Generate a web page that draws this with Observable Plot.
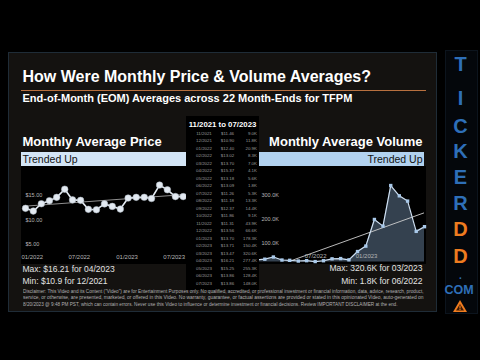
<!DOCTYPE html>
<html><head><meta charset="utf-8">
<script src="https://cdn.jsdelivr.net/npm/d3@7"></script>
<script src="https://cdn.jsdelivr.net/npm/@observablehq/plot@0.6"></script>
<style>
html,body{margin:0;padding:0;background:#000;width:480px;height:360px;overflow:hidden;font-family:"Liberation Sans",Arial,sans-serif;}
#root{position:relative;width:480px;height:360px;background:#000;}
.t{position:absolute;white-space:nowrap;}
</style></head><body>
<div id="root"></div>
<script>
// ---- data ----
const months = ["11/2021","12/2021","01/2022","02/2022","03/2022","04/2022","05/2022","06/2022","07/2022","08/2022","09/2022","10/2022","11/2022","12/2022","01/2023","02/2023","03/2023","04/2023","05/2023","06/2023","07/2023"];
const prices = [11.46,10.90,12.40,13.02,13.70,15.37,13.18,13.09,11.26,11.18,12.37,11.86,11.31,13.56,13.70,13.71,13.47,16.21,15.25,13.86,13.86];
const volumes = [9.0,11.8,20.9,8.3,7.0,4.1,5.6,1.8,5.3,13.3,14.4,9.1,43.9,66.6,178.3,150.4,320.6,277.4,255.3,128.4,148.0]; // thousands
const priceTicks = [5,10,15];
const priceDateTicks = ["01/2022","07/2022","01/2023","07/2023"];
const volumeTicks = [100,200,300];
const volumeDateTicks = ["07/2022","01/2023"];
const sideLetters = ["T","I","C","K","E","R","D","D"];

const FONT = '"Liberation Sans", Arial, sans-serif';
function parseMonth(s){const [m,y]=s.split("/");return new Date(Date.UTC(+y,+m-1,1));}
const root = document.getElementById("root");
function box(x,y,w,h,style){const d=document.createElement("div");d.className="t";Object.assign(d.style,{left:x+"px",top:y+"px",width:w+"px",height:h+"px"},style||{});root.appendChild(d);return d;}
function label(txt,x,yc,size,opts){
  opts=opts||{};
  const d=document.createElement("div");d.className="t";d.textContent=txt;
  d.style.fontSize=size+"px";d.style.lineHeight=size+"px";d.style.top=(yc-size/2)+"px";
  d.style.fontWeight=opts.bold?"bold":"normal";d.style.color=opts.color||"#fff";
  if(opts.anchor==="end"){d.style.right=(480-x)+"px";}
  else if(opts.anchor==="middle"){d.style.left=(x-100)+"px";d.style.width="200px";d.style.textAlign="center";}
  else d.style.left=x+"px";
  root.appendChild(d);return d;
}

// panel
box(8,52,429,260,{background:"#141210",border:"1px solid #1f2c37",boxSizing:"border-box"});
// sidebar
box(445,50,33,264,{background:"#04070b",border:"1px solid #0c141d",boxSizing:"border-box"});

label("How Were Monthly Price & Volume Averages?",22.5,77,16,{bold:true});
box(21,89.5,405,1.6,{background:"#b8703f"});
label("End-of-Month (EOM) Averages across 22 Month-Ends for TFPM",22.5,98.5,11,{bold:true});

label("Monthly Average Price",22.5,141,13,{bold:true});
box(21,152,166,14,{background:"#d3e5f6"});
label("Trended Up",22.5,159,10.5,{color:"#111"});

label("Monthly Average Volume",422.5,141,13,{bold:true,anchor:"end"});
box(258,152,166,14,{background:"#b2d2ef"});
label("Trended Up",422.5,159,10.5,{color:"#111",anchor:"end"});

// ---- price chart ----
const priceData = months.map((m,i)=>({date:parseMonth(m),price:prices[i]}));
const pricePlot = Plot.plot({
  width:166,height:98,marginLeft:4,marginRight:4.3,marginTop:9.8,marginBottom:0,
  style:{background:"#000",fontFamily:FONT,overflow:"visible"},
  x:{type:"utc",domain:d3.extent(priceData,d=>d.date),axis:null},
  y:{domain:[0,18],axis:null},
  marks:[
    Plot.text(priceTicks,{y:d=>d,frameAnchor:"left",text:d=>"$"+d.toFixed(2),textAnchor:"start",dx:0,dy:4.4,fontSize:5.5,fill:"#b5b5b5"}),
    Plot.text(priceDateTicks,{x:d=>parseMonth(d),frameAnchor:"bottom",text:d=>d,textAnchor:"end",dx:1.8,dy:-6,fontSize:6,fill:"#b5b5b5"}),
    Plot.linearRegressionY(priceData,{x:"date",y:"price",stroke:"#8e8e8e",strokeWidth:1,ci:0}),
    Plot.line(priceData,{x:"date",y:"price",stroke:"#e4ebf3",strokeWidth:1.6}),
    Plot.dot(priceData,{x:"date",y:"price",r:3.3,fill:"#e2e9f1",stroke:"#aab4bf",strokeWidth:0.5})
  ]
});
const pw=box(21,166,166,98,{});pw.appendChild(pricePlot);

// ---- volume chart ----
const volData = months.map((m,i)=>({date:parseMonth(m),vol:volumes[i]}));
const volPlot = Plot.plot({
  width:176,height:98,marginLeft:6,marginRight:2,marginTop:14.4,marginBottom:2.5,
  style:{background:"#000",fontFamily:FONT,overflow:"visible"},
  x:{type:"utc",domain:d3.extent(volData,d=>d.date),axis:null},
  y:{domain:[0,340],axis:null},
  marks:[
    Plot.areaY(volData,{x:"date",y:"vol",fill:"#34414f"}),
    Plot.text(volumeTicks,{y:d=>d,frameAnchor:"left",text:d=>d.toFixed(1)+"K",textAnchor:"start",dx:5,dy:5,fontSize:5.5,fill:"#b5b5b5"}),
    Plot.linearRegressionY(volData,{x:"date",y:"vol",stroke:"#cfcfcf",strokeWidth:0.9,ci:0,clip:true}),
    Plot.line(volData,{x:"date",y:"vol",stroke:"#cfe0f2",strokeWidth:1.2}),
    Plot.dot(volData,{x:"date",y:"vol",symbol:"square",r:1.9,fill:"#a9c9ea"}),
    Plot.text(volumeDateTicks,{x:d=>parseMonth(d),frameAnchor:"bottom",text:d=>d,textAnchor:"end",dx:3,dy:-4.2,fontSize:6,fill:"#b5b5b5"})
  ]
});
const vw=box(250,166,176,98,{});vw.appendChild(volPlot);

// ---- table ----
box(186,116,73,174,{background:"#000"});
label("11/2021 to 07/2023",222.5,125,7.8,{bold:true,anchor:"middle"});
months.forEach((m,i)=>{
  const y=134+i*7.5;
  label(m,204,y,4.4,{color:"#9c9c9c",anchor:"middle"});
  label("$"+prices[i].toFixed(2),227.5,y,4.4,{color:"#9c9c9c",anchor:"middle"});
  label(volumes[i].toFixed(1)+"K",257,y,4.4,{color:"#9c9c9c",anchor:"end"});
});

// ---- max / min ----
const pMaxI=d3.maxIndex(prices), pMinI=d3.minIndex(prices);
const vMaxI=d3.maxIndex(volumes), vMinI=d3.minIndex(volumes);
label("Max: $"+prices[pMaxI]+" for "+months[pMaxI],22.5,269,8.5,{color:"#e2e2e2"});
label("Min: $"+prices[pMinI].toFixed(1)+" for "+months[pMinI],22.5,281.5,8.5,{color:"#e2e2e2"});
label("Max: "+volumes[vMaxI].toFixed(1)+"K for "+months[vMaxI],422.5,268.5,8.5,{color:"#e2e2e2",anchor:"end"});
label("Min: "+volumes[vMinI].toFixed(1)+"K for "+months[vMinI],422.5,281,8.5,{color:"#e2e2e2",anchor:"end"});

// ---- disclaimer ----
const disc=[
 "Disclaimer: This Video and its Content (\"Video\") are for Entertainment Purposes only. No qualified, accredited, or professional investment or financial information, data, advice, research, product,",
 "service, or otherwise, are presented, marketed, or offered in this Video. No warranty, guarantee, or factual assertions are provided or stated in this opinionated Video, auto-generated on",
 "8/20/2023 @ 9:48 PM PST, which can contain errors. Never use this Video to influence or determine investment or financial decisions. Review IMPORTANT DISCLAIMER at the end."
];
const discW=[400.5,400.5,374.5];
disc.forEach((s,i)=>{
  const d=label(s,22.5,292+i*6.4,4.6,{color:"#b0b0b0"});
  d.style.transformOrigin="0 50%";
  const w=d.getBoundingClientRect().width;
  d.style.transform="scaleX("+(discW[i]/w)+")";
});

// ---- sidebar logo ----
const ly=[64,98,126,151,177,203,229,256];
sideLetters.forEach((c,i)=>label(c,460.5,ly[i],20,{bold:true,color:i>=6?"#ef7c1f":"#2e6fb8",anchor:"middle"}));
label(".",460.5,276,10,{bold:true,color:"#2e6fb8",anchor:"middle"});
label("COM",459,290,12.5,{bold:true,color:"#2e6fb8",anchor:"middle"});
const tri=box(452,299,16,14,{});
tri.innerHTML='<svg width="16" height="14"><polygon points="8,1 15,13 1,13" fill="#ef7c1f"/><polygon points="8,5 12,11.5 4,11.5" fill="#3a1a05"/><rect x="7.4" y="6.5" width="1.2" height="3" fill="#ef7c1f"/><rect x="7.4" y="10" width="1.2" height="1" fill="#ef7c1f"/></svg>';
</script>
</body></html>
